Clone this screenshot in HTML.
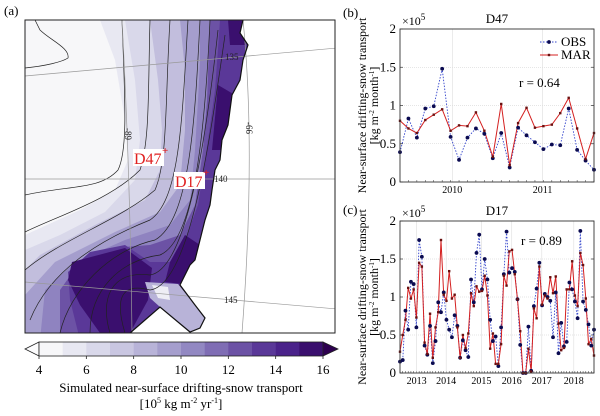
<!DOCTYPE html>
<html><head><meta charset="utf-8">
<style>
html,body{margin:0;padding:0;background:#fff;font-family:"Liberation Serif","DejaVu Serif",serif;}
svg{display:block;font-family:"Liberation Serif","DejaVu Serif",serif;}
text,tspan{font-family:"Liberation Serif","DejaVu Serif",serif !important;}
</style></head>
<body>
<svg id="root" width="600" height="416" viewBox="0 0 600 416" xmlns="http://www.w3.org/2000/svg" font-family="Liberation Serif, DejaVu Serif, serif">
<defs>
<clipPath id="coast"><polygon points="25,20 243,20 240,33 248,45 243,60 240,80 232,95 230,110 228,125 222,140 220,160 215,170 212,190 210,205 205,220 200,240 195,260 190,265 180,285 195,305 205,318 200,328 190,332 160,307 130,333 25,333"/></clipPath>
<clipPath id="mapbox"><rect x="25" y="20" width="310" height="313"/></clipPath>
</defs>
<text x="4" y="15" font-size="13">(a)</text>
<g>
<rect x="25" y="20" width="310" height="313" fill="#fff"/>
<g clip-path="url(#coast)">
<rect x="25" y="20" width="320" height="320" fill="#e8e8f2"/>
<polygon fill="#f7f7f9" points="25,20 100,20 115,60 125,120 128,160 115,190 80,210 25,235"/>
<polygon fill="#d9d8ea" points="125,20 340,20 340,340 25,340 25,250 60,235 105,212 135,180 140,140 135,80"/>
<polygon fill="#c2bedd" points="150,20 340,20 340,340 25,340 25,270 40,255 95,225 145,200 160,170 162,130 158,80"/>
<polygon fill="#a59ecd" points="180,20 340,20 340,340 25,340 25,295 55,262 115,232 160,212 180,185 185,130 185,70"/>
<polygon fill="#8f83c0" points="200,20 340,20 340,340 40,340 45,290 75,262 125,240 170,225 190,200 195,150 198,100 200,60"/>
<polygon fill="#6c52a5" points="210,20 340,20 340,340 60,340 60,290 80,262 110,248 150,245 180,235 195,205 203,150 207,100"/>
<polygon fill="#5a3898" points="220,20 340,20 340,340 80,340 70,300 68,272 90,252 125,245 150,262 170,262 185,240 198,205 208,140 215,90"/>
<polygon fill="#3a0f6e" points="72,262 125,248 152,268 148,300 130,333 100,333 80,305 68,280"/>
<polygon fill="#3a0f6e" points="185,235 200,245 190,285 165,282 170,262"/>
<polygon fill="#3a0f6e" points="218,85 235,95 222,150 212,150"/>
<polygon fill="#3a0f6e" points="228,20 245,20 245,45 230,45"/>
<polygon fill="#b8b3d8" points="145,282 178,284 195,305 205,318 200,328 190,332 160,307 150,298"/>
<polygon fill="#eeeef5" points="152,285 168,287 170,300 158,298"/>
</g>
<g fill="none" stroke="#222" stroke-width="0.7" clip-path="url(#mapbox)">
<path d="M25,68 C45,66 62,62 68,58 C70,48 50,40 40,30 L35,20"/>
<path d="M25,195 C70,185 100,190 118,170 C128,150 125,100 122,20"/>
<path d="M25,232 C60,215 110,200 140,170 C150,140 148,90 150,20"/>
<path d="M25,270 C60,240 120,220 155,190 C168,160 165,100 170,20"/>
<path d="M30,320 C50,270 100,240 150,220 C180,200 182,120 188,20"/>
<path d="M60,333 C70,290 110,250 155,240 C190,220 195,120 200,20"/>
<path d="M90,333 C90,290 120,260 160,255 C195,240 205,130 210,20"/>
<path d="M110,333 C100,300 110,270 150,275 C185,270 205,150 218,30"/>
<path d="M125,333 C115,300 120,282 150,290 C190,285 210,140 225,35"/>
</g>
<g fill="none" stroke="#999" stroke-width="0.7" clip-path="url(#mapbox)">
<line x1="25" y1="76" x2="337" y2="48"/>
<line x1="25" y1="179" x2="337" y2="179"/>
<line x1="25" y1="282" x2="337" y2="309"/>
<path d="M122,20 Q130,170 132,333"/>
<path d="M243,20 Q256,150 242,333"/>
</g>
<path d="M243,20 L240,33 248,45 243,60 240,80 232,95 230,110 228,125 222,140 220,160 215,170 212,190 210,205 205,220 200,240 195,260 190,265 180,285 195,305 205,318 200,328 190,332 160,307 130,333" fill="none" stroke="#111" stroke-width="1.2"/>
<g font-size="9" fill="#222">
<text x="225" y="60">135</text>
<text x="214" y="182">140</text>
<text x="224" y="303">145</text>
<text transform="translate(125,128) rotate(90)">-89</text>
<text transform="translate(246,122) rotate(90)">-66</text>
</g>
<g>
<rect x="133" y="149" width="31" height="17" fill="#fff"/>
<text x="134" y="164" font-size="16" fill="#e02020">D47</text>
<text x="162" y="154" font-size="11" fill="#e02020" font-weight="bold">+</text>
</g>
<g>
<rect x="174" y="172" width="31" height="17" fill="#fff"/>
<text x="175" y="187" font-size="16" fill="#e02020">D17</text>
<text x="203" y="176" font-size="11" fill="#e02020" font-weight="bold">+</text>
</g>
<rect x="25" y="20" width="310" height="313" fill="none" stroke="#222" stroke-width="1"/>
</g>
<g id="cbar"></g>
<text x="181" y="392" font-size="13" text-anchor="middle">Simulated near-surface drifting-snow transport</text>
<text x="181" y="408" font-size="13" text-anchor="middle">[10<tspan font-size="8" dy="-5">5</tspan><tspan dy="5"> kg m</tspan><tspan font-size="8" dy="-5">-2</tspan><tspan dy="5"> yr</tspan><tspan font-size="8" dy="-5">-1</tspan><tspan dy="5">]</tspan></text>

<text x="343" y="17" font-size="13">(b)</text>
<text x="343" y="214" font-size="13">(c)</text>
<g id="chartB"></g>
<g id="chartC"></g>
</svg>
<script>
const NS='http://www.w3.org/2000/svg';
// colorbar data
const cbLevels=[4,5,6,7,8,9,10,11,12,13,14,15,16];
const cbColors=['#f7f7f9','#e8e8f2','#d9d8ea','#c9c6e1','#b8b3d8','#a59ecd','#9288c2','#7f6db4','#6c52a5','#5a3898','#4a228a','#3a0f6e'];
const cbTicks=[4,6,8,10,12,14,16];
// D47 chart data
const bObs=[0.39,0.83,0.58,0.96,0.99,1.48,0.59,0.29,0.58,0.70,0.63,0.31,0.64,0.19,0.71,0.61,0.52,0.43,0.49,0.48,0.96,0.42,0.28,0.16];
const bMar=[0.80,0.70,0.64,0.81,0.88,0.95,0.67,0.74,0.73,0.91,0.67,0.33,1.02,0.22,0.77,0.97,0.71,0.73,0.75,0.90,1.10,0.70,0.30,0.64];
const bYearLabels=['2010','2011'];
const bYearIdx=[6.2,16.9];
// D17 chart data
const cObs=[0.15,0.17,0.82,0.57,1.2,1.17,0.6,1.75,1.53,0.36,0.24,0.62,0.13,0.42,0.93,0.8,1.06,0.7,0.57,0.47,0.76,0.62,0.2,0.43,0.3,0.21,1.23,0.93,1.58,1.82,1.1,1.5,1.23,0.7,0.42,0.48,0.09,0.6,1.3,1.86,1.32,1.38,1.33,0.97,0.37,0,0,0.61,0.03,0.88,1.11,1.45,0.89,1.04,1,0.95,0.47,1.06,0.26,0.66,0.35,0.41,1.19,1.1,0.94,0.72,1.87,0.94,0.83,0.64,0.36,0.57];
const cMar=[0.28,0.5,0.7,1.12,0.98,1.1,0.73,1.45,1.4,0.4,0.25,0.78,0.2,0.6,0.8,1.75,1.03,0.95,1.34,0.98,1.03,0.6,0.2,0.5,0.33,0.52,1.05,0.88,1.14,1.07,1.08,1.28,1.02,0.32,0.52,0.12,0.12,0.38,1.28,1.15,1.6,1.62,1.3,0.97,0.55,0,0,0.32,0.02,0.85,0.72,1.4,0.9,1.02,0.98,1.26,1.05,1.27,0.65,0.3,0.33,1.1,1.1,1.47,1.02,0.88,1.58,1.42,0.98,0.38,0.45,0.23];
const cYearLabels=['2013','2014','2015','2016','2017','2018'];
const cYearIdx=[6.1,16.9,29.8,40.9,51.9,63.6];
const yTickVals=[0,0.5,1,1.5,2];
const yTickLabels=['0','0.5','1','1.5','2'];

function mk(tag,attrs,parent){const e=document.createElementNS(NS,tag);for(const k in attrs)e.setAttribute(k,attrs[k]);if(tag==='text')e.setAttribute('font-family','Liberation Serif, DejaVu Serif, serif');parent.appendChild(e);return e;}

(function(){
  const g=document.getElementById('cbar');
  const x0=39,x1=323,y0=342,y1=356;
  const sx=v=>x0+(v-cbLevels[0])/(cbLevels[cbLevels.length-1]-cbLevels[0])*(x1-x0);
  const lt=mk('polygon',{points:`25,349 ${x0},${y0} ${x0},${y1}`,fill:'#fcfcfd',stroke:'#222','stroke-width':0.8},g);
  
  
  const rt=mk('polygon',{points:`338,349 ${x1},${y0} ${x1},${y1}`,fill:'#2d004f',stroke:'#222','stroke-width':0.8},g);
  
  
  for(let i=0;i<cbColors.length;i++){
    const r=mk('rect',{x:sx(cbLevels[i]),y:y0,width:sx(cbLevels[i+1])-sx(cbLevels[i])+0.3,height:y1-y0,fill:cbColors[i]},g);
    
    
  }
  mk('rect',{x:x0,y:y0,width:x1-x0,height:y1-y0,fill:'none',stroke:'#222','stroke-width':0.8},g);
  cbTicks.forEach(v=>{
    mk('line',{x1:sx(v),x2:sx(v),y1:y1,y2:y1+3,stroke:'#222','stroke-width':0.8},g);
    const t=mk('text',{x:sx(v),y:374,'font-size':13,'text-anchor':'middle'},g);
    t.textContent=v;
    
    
  });
})();

function chart(gid,L,R,T,B,obs,mar,yrIdx,yrLab,title,rtext,rx,ry,legend){
  const g=document.getElementById(gid);
  const n=obs.length;
  const sx=i=>L+i/(n-1)*(R-L);
  const sy=v=>B-v/2*(B-T);
  yTickVals.forEach((v,k)=>{
    if(v>0&&v<2){const gl=mk('line',{x1:L,x2:R,y1:sy(v),y2:sy(v),stroke:'#ccc','stroke-width':0.6,'stroke-dasharray':'1,1'},g);
      
      }
    mk('line',{x1:L,x2:L+3,y1:sy(v),y2:sy(v),stroke:'#333','stroke-width':0.7},g);
    mk('line',{x1:R,x2:R-3,y1:sy(v),y2:sy(v),stroke:'#333','stroke-width':0.7},g);
    const t=mk('text',{x:L-4,y:sy(v)+4,'font-size':13,'text-anchor':'end'},g);
    t.textContent=yTickLabels[k];
    
    
  });
  for(let i=0;i<n;i++){mk('line',{x1:sx(i),x2:sx(i),y1:B,y2:B-2,stroke:'#333','stroke-width':0.5},g);}
  yrIdx.forEach((xi,k)=>{
    const gl=mk('line',{x1:sx(xi),x2:sx(xi),y1:T,y2:B,stroke:'#ddd','stroke-width':0.6},g);
    
    
    const t=mk('text',{x:sx(xi),y:B+11,'font-size':10,'text-anchor':'middle'},g);
    t.textContent=yrLab[k];
    
    
  });
  const po=mk('polyline',{points:obs.map((v,i)=>sx(i)+','+sy(v)).join(' '),fill:'none',stroke:'#3344cc','stroke-width':0.9,'stroke-dasharray':'1.5,1.5'},g);
  
  
  const pm=mk('polyline',{points:mar.map((v,i)=>sx(i)+','+sy(v)).join(' '),fill:'none',stroke:'#d42020','stroke-width':1},g);
  
  
  obs.forEach((v,i)=>{const c=mk('circle',{cx:sx(i),cy:sy(v),r:1.9,fill:'#0a0a50'},g);
    
    });
  mar.forEach((v,i)=>{const c=mk('rect',{x:sx(i)-1.2,y:sy(v)-1.2,width:2.4,height:2.4,fill:'#6a1010'},g);
    
    });
  mk('rect',{x:L,y:T,width:R-L,height:B-T,fill:'none',stroke:'#333','stroke-width':0.9},g);
  const tt=mk('text',{x:(L+R)/2,y:T-6,'font-size':13,'text-anchor':'middle'},g);
  tt.textContent=title;
  
  
  const ex=mk('text',{x:L+2,y:T-4,'font-size':12},g);
  ex.innerHTML='×10<tspan font-size="9" dy="-5">5</tspan>';
  
  
  const rr=mk('text',{x:rx,y:ry,'font-size':13},g);
  rr.textContent=rtext;
  
  
  const cy=(T+B)/2;
  const y1=mk('text',{transform:`translate(366,${cy}) rotate(-90)`,'font-size':12,'text-anchor':'middle'},g);
  y1.textContent='Near-surface drifting-snow transport';
  
  
  const y2=mk('text',{transform:`translate(378,${cy}) rotate(-90)`,'font-size':12,'text-anchor':'middle'},g);
  y2.innerHTML='[kg m<tspan font-size="7" dy="-4">-2</tspan><tspan dy="4"> month</tspan><tspan font-size="7" dy="-4">-1</tspan><tspan dy="4">]</tspan>';
  
  
  if(legend){
    const lg=mk('g',{},g);
    
    
    mk('line',{x1:540,x2:558,y1:42,y2:42,stroke:'#3344cc','stroke-width':0.9,'stroke-dasharray':'1.5,1.5'},lg);
    mk('circle',{cx:549,cy:42,r:1.9,fill:'#0a0a50'},lg);
    const a=mk('text',{x:561,y:46,'font-size':13},lg);a.textContent='OBS';
    
    
    mk('line',{x1:540,x2:558,y1:55,y2:55,stroke:'#d42020','stroke-width':1},lg);
    mk('rect',{x:547.8,y:53.8,width:2.4,height:2.4,fill:'#6a1010'},lg);
    const b=mk('text',{x:561,y:59,'font-size':13},lg);b.textContent='MAR';
    
    
  }
}
chart('chartB',400,594,29,182,bObs,bMar,bYearIdx,bYearLabels,'D47','r = 0.64',519,87,true);
chart('chartC',400,594,221,373,cObs,cMar,cYearIdx,cYearLabels,'D17','r = 0.89',521,245,false);
</script>
</body></html>
